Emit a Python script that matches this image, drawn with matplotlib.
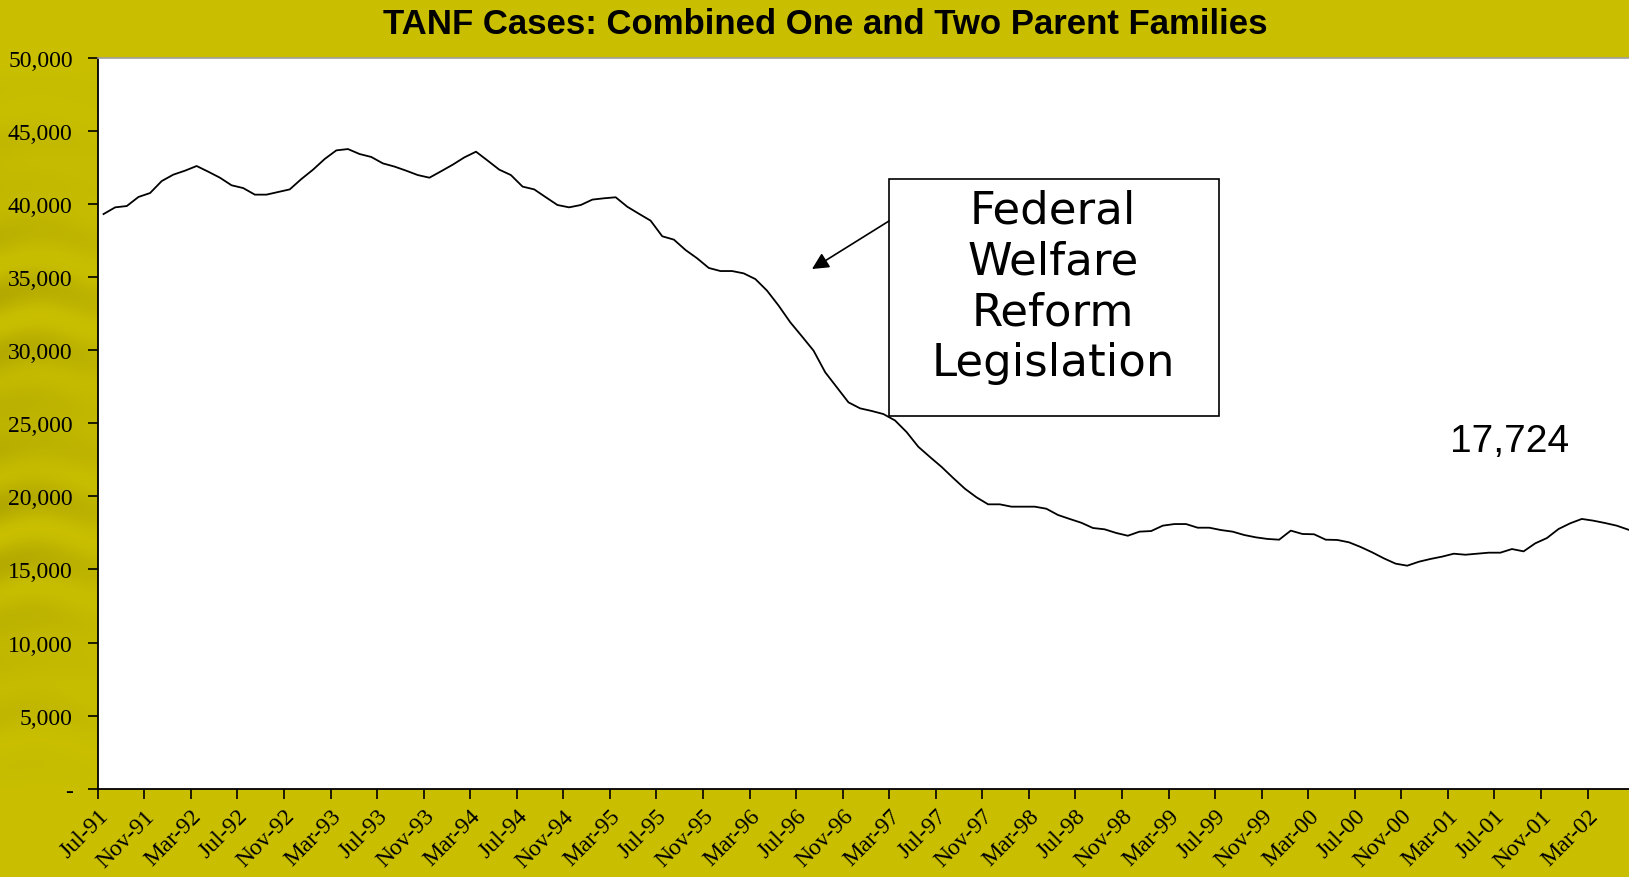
import numpy as np
import pandas as pd
import matplotlib
matplotlib.use("Agg")
import matplotlib.pyplot as plt
from matplotlib.patches import Rectangle

# Monthly TANF cases, Jul-91 .. Jun-02
start_month = "1991-07"
n_months = 132
cases = [
    39330, 39790, 39880, 40500, 40770, 41590, 42030, 42300, 42620, 42230,
    41820, 41300, 41110, 40660, 40660, 40840, 41020, 41730, 42370, 43100,
    43690, 43780, 43440, 43240, 42800, 42580, 42300, 42000, 41820, 42260,
    42710, 43210, 43600, 42990, 42370, 42000, 41210, 41020, 40480, 39950,
    39790, 39950, 40320, 40410, 40480, 39830, 39350, 38880, 37810, 37580,
    36870, 36300, 35640, 35430, 35430, 35270, 34880, 34090, 33060, 31920,
    30960, 29980, 28500, 27470, 26440, 26030, 25850, 25640, 25200, 24400,
    23400, 22700, 22020, 21260, 20530, 19940, 19460, 19460, 19300, 19300,
    19300, 19160, 18730, 18460, 18200, 17840, 17750, 17500, 17310, 17590,
    17630, 18000, 18110, 18110, 17860, 17860, 17700, 17590, 17360, 17200,
    17090, 17040, 17660, 17430, 17410, 17040, 17020, 16860, 16540, 16170,
    15760, 15400, 15260, 15530, 15720, 15880, 16080, 16010, 16080, 16150,
    16150, 16400, 16240, 16790, 17150, 17770, 18160, 18460, 18340, 18180,
    18000, 17724,
]
y_ticks = [0, 5000, 10000, 15000, 20000, 25000, 30000, 35000, 40000, 45000, 50000]
label_every = 4
box_lines = ["Federal", "Welfare", "Reform", "Legislation"]
last_label = "17,724"
title = "TANF Cases: Combined One and Two Parent Families"

months = pd.date_range(start_month, periods=n_months, freq="MS")
month_labels = [m.strftime("%b-%y") for m in months]

BG = "#c9bf00"
W, H = 1629, 878

fig = plt.figure(figsize=(W / 100, H / 100), dpi=100, facecolor=BG)

# textured darker band on the left edge (decoration)
tex = fig.add_axes([0, 90 / H, 100 / W, 720 / H])
tex.axis("off")
yy, xx = np.mgrid[0:300, 0:60]
streak = 0.5 + 0.5 * np.sin(yy / 4.0 + np.sin(xx / 14.0) * 0.8) * np.cos(yy / 31.0)
fade_x = np.clip(1.0 - xx / 80.0, 0, 1) ** 0.5
fade_y = np.sin(np.pi * yy / 300.0) ** 0.8
alpha = 0.32 * streak * fade_x * fade_y
rgba = np.zeros((300, 60, 4))
rgba[..., 0] = 120 / 255
rgba[..., 1] = 112 / 255
rgba[..., 2] = 0
rgba[..., 3] = alpha
tex.imshow(rgba, aspect="auto", extent=[0, 1, 0, 1])
tex.set_xlim(0, 1)
tex.set_ylim(0, 1)

left, right, top, bottom = 97.7, 1629, 59.2, 789.6
ax = fig.add_axes([left / W, 1 - bottom / H, (right - left) / W, (bottom - top) / H])
ax.set_facecolor("white")

x = np.arange(n_months)
ax.plot(x, cases, color="black", lw=1.3)

month_w = 11.64
ax.set_xlim(-0.5, (right - left) / month_w - 0.5)
ax.set_ylim(0, 50000)

ax.set_yticks(y_ticks)
ax.set_yticklabels(["-" if v == 0 else f"{v:,}" for v in y_ticks],
                   fontfamily="Liberation Serif", fontsize=17)
tick_pos = np.arange(0, n_months, label_every) - 0.5
ax.set_xticks(tick_pos)
ax.set_xticklabels([month_labels[i] for i in range(0, n_months, label_every)],
                   fontfamily="Liberation Serif", fontsize=17,
                   rotation=45, ha="right", va="top", rotation_mode="anchor")
ax.tick_params(axis="y", direction="out", length=7, width=1.2, pad=11, colors="black")
ax.tick_params(axis="x", direction="out", length=7, width=1.2, pad=5, colors="black")

for s in ["left", "bottom"]:
    ax.spines[s].set_linewidth(1.3)
    ax.spines[s].set_color("black")
ax.spines["right"].set_visible(False)
ax.spines["top"].set_color("#a0a0a0")
ax.spines["top"].set_linewidth(1.2)


def to_data(px, py):
    return (px - left) / month_w - 0.5, (bottom - py) / (bottom - top) * 50000


# annotation box
bx0, by0 = to_data(889, 417)
bx1, by1 = to_data(1219, 180)
ax.add_patch(Rectangle((bx0, by0), bx1 - bx0, by1 - by0, facecolor="white",
                       edgecolor="black", lw=1.2, zorder=3, clip_on=False))
cx, _ = to_data(1053, 0)
for k, line in enumerate(box_lines):
    _, by = to_data(0, 224 + 50.6 * k)
    ax.text(cx, by, line, ha="center", va="baseline", fontsize=32.5,
            fontfamily="DejaVu Sans", zorder=4)

ax.annotate("", xy=to_data(812, 270), xytext=to_data(889, 222),
            arrowprops=dict(arrowstyle="-|>", color="black", lw=1.2,
                            mutation_scale=25, shrinkA=0, shrinkB=0),
            zorder=4, annotation_clip=False)

lx, ly = to_data(1510, 442)
ax.text(lx, ly, last_label, ha="center", va="center", fontsize=28,
        fontfamily="Liberation Sans")

fig.text(825 / W, 1 - 25 / H, title, ha="center", va="center", fontsize=25,
         fontweight="bold", fontfamily="Liberation Sans")

fig.savefig("out.png", dpi=100, facecolor=BG)
